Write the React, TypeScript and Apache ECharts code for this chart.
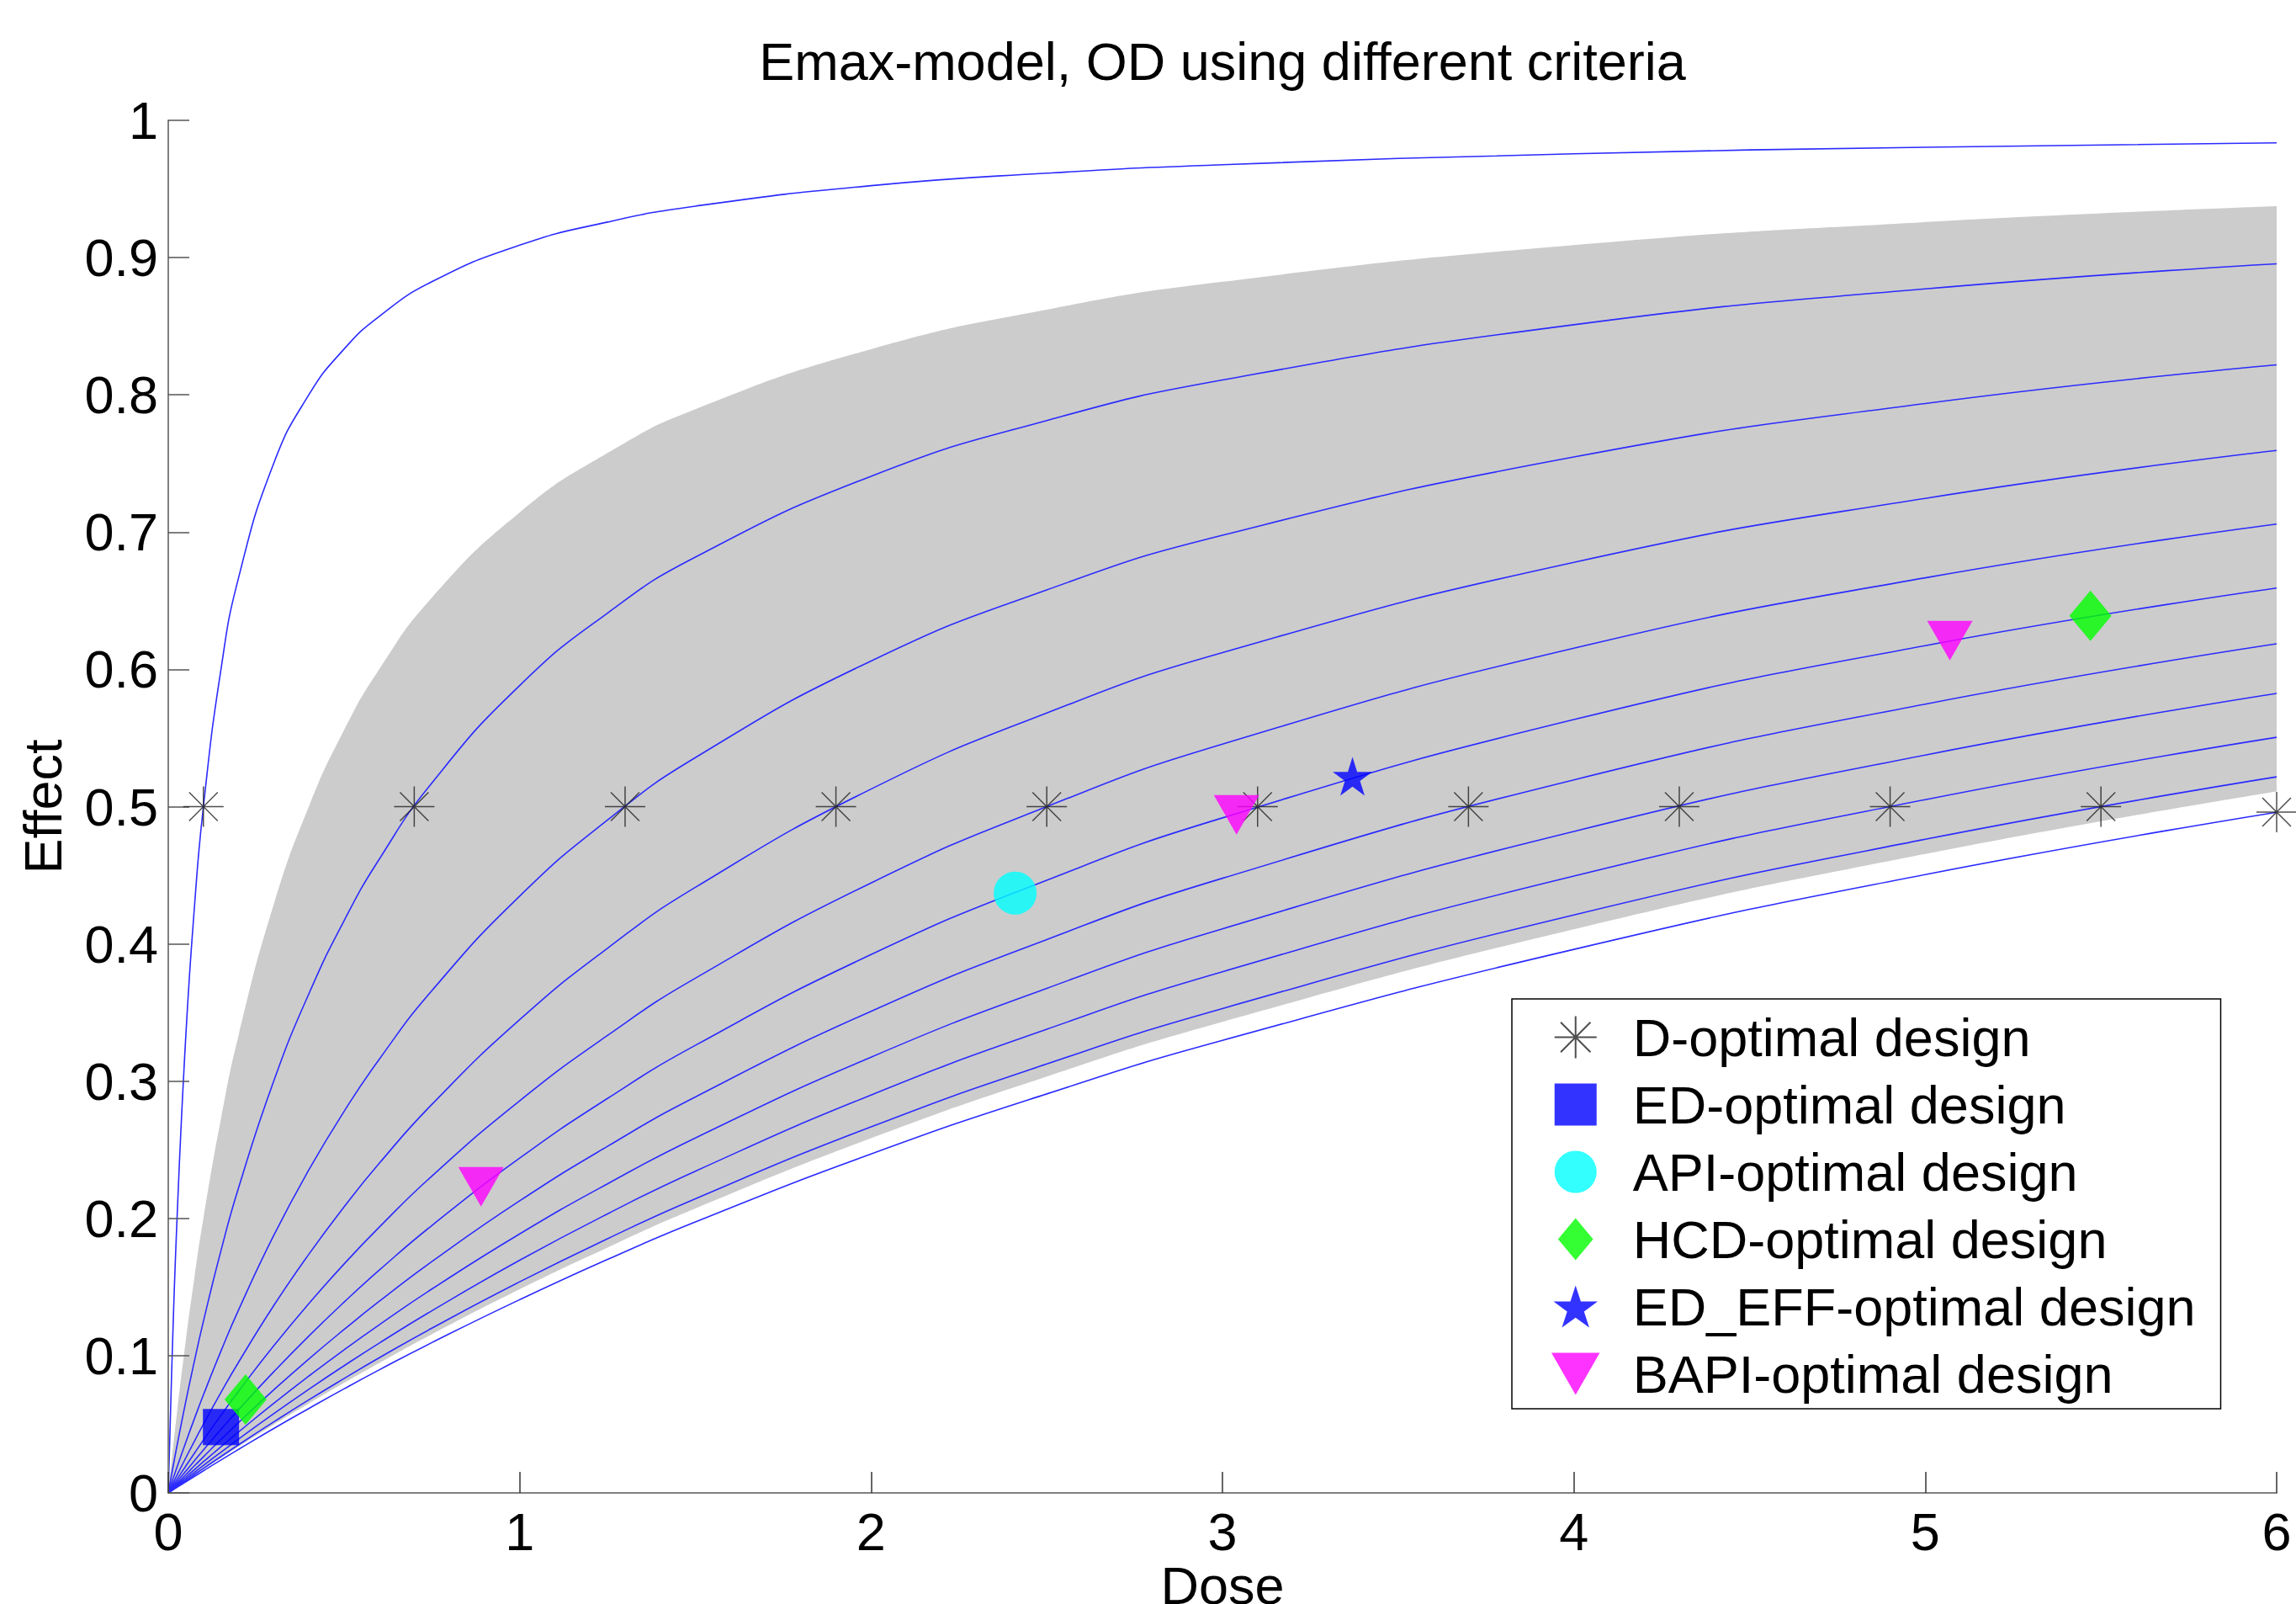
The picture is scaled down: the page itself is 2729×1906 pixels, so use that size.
import React, { useEffect, useRef } from 'react';
import * as echarts from 'echarts';

// Dose grid on which the Emax curves were read
const doseGrid = [0, 0.01, 0.025, 0.05, 0.075, 0.1, 0.15, 0.2, 0.3, 0.4, 0.5, 0.6, 0.75, 1, 1.25, 1.5, 2, 2.5, 3, 4, 5, 6];

// Blue model curves (ED50 = 0.1, 0.7, ..., 6.1)
const curveA = [0, 0.0909, 0.2, 0.3333, 0.4286, 0.5, 0.6, 0.6667, 0.75, 0.8, 0.8333, 0.8571, 0.8824, 0.9091, 0.9259, 0.9375, 0.9524, 0.9615, 0.9677, 0.9756, 0.9804, 0.9836];
const curveB = [0, 0.0141, 0.0345, 0.0667, 0.0968, 0.125, 0.1765, 0.2222, 0.3, 0.3636, 0.4167, 0.4615, 0.5172, 0.5882, 0.641, 0.6818, 0.7407, 0.7813, 0.8108, 0.8511, 0.8772, 0.8955];
const curveC = [0, 0.0076, 0.0189, 0.037, 0.0545, 0.0714, 0.1034, 0.1333, 0.1875, 0.2353, 0.2778, 0.3158, 0.3659, 0.4348, 0.4902, 0.5357, 0.6061, 0.6579, 0.6977, 0.7547, 0.7937, 0.8219];
const curveD = [0, 0.0052, 0.013, 0.0256, 0.038, 0.05, 0.0732, 0.0952, 0.1364, 0.1739, 0.2083, 0.24, 0.283, 0.3448, 0.3968, 0.4412, 0.5128, 0.5682, 0.6122, 0.678, 0.7246, 0.7595];
const curveE = [0, 0.004, 0.0099, 0.0196, 0.0291, 0.0385, 0.0566, 0.0741, 0.1071, 0.1379, 0.1667, 0.1935, 0.2308, 0.2857, 0.3333, 0.375, 0.4444, 0.5, 0.5455, 0.6154, 0.6667, 0.7059];
const curveF = [0, 0.0032, 0.008, 0.0159, 0.0236, 0.0313, 0.0462, 0.0606, 0.0882, 0.1143, 0.1389, 0.1622, 0.1948, 0.2439, 0.2874, 0.3261, 0.3922, 0.4464, 0.4918, 0.5634, 0.6173, 0.6593];
const curveG = [0, 0.0027, 0.0067, 0.0133, 0.0199, 0.0263, 0.039, 0.0513, 0.075, 0.0976, 0.119, 0.1395, 0.1685, 0.2128, 0.2525, 0.2885, 0.3509, 0.4032, 0.4478, 0.5195, 0.5747, 0.6186];
const curveH = [0, 0.0023, 0.0058, 0.0115, 0.0171, 0.0227, 0.0337, 0.0444, 0.0652, 0.0851, 0.1042, 0.1224, 0.1485, 0.1887, 0.2252, 0.2586, 0.3175, 0.3676, 0.411, 0.4819, 0.5376, 0.5825];
const curveI = [0, 0.002, 0.0051, 0.0101, 0.0151, 0.02, 0.0297, 0.0392, 0.0577, 0.0755, 0.0926, 0.1091, 0.1327, 0.1695, 0.2033, 0.2344, 0.2899, 0.3378, 0.3797, 0.4494, 0.5051, 0.5505];
const curveJ = [0, 0.0018, 0.0045, 0.009, 0.0135, 0.0179, 0.0265, 0.0351, 0.0517, 0.0678, 0.0833, 0.0984, 0.12, 0.1538, 0.1852, 0.2143, 0.2667, 0.3125, 0.3529, 0.4211, 0.4762, 0.5217];
const curveK = [0, 0.0016, 0.0041, 0.0081, 0.0121, 0.0161, 0.024, 0.0317, 0.0469, 0.0615, 0.0758, 0.0896, 0.1095, 0.1408, 0.1701, 0.1974, 0.2469, 0.2907, 0.3297, 0.396, 0.4505, 0.4959];

// Grey uncertainty band edges
const bandUpper = [0, 0.0244, 0.0588, 0.1111, 0.1579, 0.2, 0.2727, 0.3333, 0.4286, 0.5, 0.5556, 0.6, 0.6522, 0.7143, 0.7576, 0.7895, 0.8333, 0.8621, 0.8824, 0.9091, 0.9259, 0.9375];
const bandLower = [0, 0.0017, 0.0043, 0.0086, 0.0129, 0.0171, 0.0255, 0.0337, 0.0497, 0.0651, 0.0801, 0.0946, 0.1156, 0.1484, 0.1788, 0.2072, 0.2584, 0.3034, 0.3432, 0.4107, 0.4655, 0.5111];

// Design points
const dOptDose = [0.1, 0.7, 1.3, 1.9, 2.5, 3.1, 3.7, 4.3, 4.9, 5.5, 6.0];
const dOptEffect = [0.5, 0.5, 0.5, 0.5, 0.5, 0.5, 0.5, 0.5, 0.5, 0.5, 0.496];
const edOptDose = [0.15];
const edOptEffect = [0.048];
const apiOptDose = [2.41];
const apiOptEffect = [0.437];
const hcdOptDose = [0.22, 5.47];
const hcdOptEffect = [0.068, 0.639];
const edEffOptDose = [3.37];
const edEffOptEffect = [0.522];
const bapiOptDose = [0.89, 3.04, 5.07];
const bapiOptEffect = [0.223, 0.494, 0.621];

const xTicks = [0, 1, 2, 3, 4, 5, 6];
const legendNames = ['D-optimal design', 'ED-optimal design', 'API-optimal design', 'HCD-optimal design', 'ED_EFF-optimal design', 'BAPI-optimal design'];

const FONT = "'Liberation Sans', Arial, Helvetica, sans-serif";

const zip = (xs: number[], ys: number[]) => xs.map((x, i) => [x, ys[i]]);

const ASTERISK = 'path://M0,-1L0,1M-1,0L1,0M-0.7071,-0.7071L0.7071,0.7071M-0.7071,0.7071L0.7071,-0.7071';
const SQUARE = 'path://M0,0L10,0L10,10L0,10Z';
const DIAMOND = 'path://M5,0L10,6L5,12L0,6Z';
const TRI_DOWN = 'path://M0,0L2,0L1,1.74Z';
const STAR = 'path://M0,-1L0.2245,-0.309L0.951,-0.309L0.3633,0.118L0.588,0.809L0,0.382L-0.588,0.809L-0.3633,0.118L-0.951,-0.309L-0.2245,-0.309Z';

export default function App() {
  const ref = useRef<HTMLDivElement>(null);
  useEffect(() => {
    document.body.style.margin = '0';
    const chart = echarts.init(ref.current!, null, { renderer: 'svg' });
    const curves = [curveA, curveB, curveC, curveD, curveE, curveF, curveG, curveH, curveI, curveJ, curveK];
    const curveSeries = curves.map((c, i) => ({
      name: 'curve' + i,
      type: 'line',
      data: zip(doseGrid, c),
      smooth: 0.5,
      symbol: 'none',
      silent: true,
      lineStyle: { color: '#2b2bff', width: 1.6 },
      z: 3,
    }));
    const option: any = {
      animation: false,
      backgroundColor: '#ffffff',
      title: {
        text: 'Emax-model, OD using different criteria',
        left: 1453,
        top: 41,
        textAlign: 'center',
        padding: 0,
        textStyle: { fontSize: 63, fontWeight: 'normal', color: '#000', fontFamily: FONT },
      },
      grid: { left: 200, right: 23, top: 143, bottom: 132, containLabel: false, outerBoundsMode: 'none' },
      legend: {
        data: legendNames,
        orient: 'vertical',
        left: 1797,
        top: 1187,
        itemWidth: 126,
        itemHeight: 50,
        itemGap: 17,
        padding: [14, 30, 10, 47],
        borderColor: '#000',
        borderWidth: 1.5,
        borderRadius: 0,
        backgroundColor: '#fff',
        selectedMode: false,
        symbolKeepAspect: true,
        textStyle: { fontSize: 63, color: '#000', fontFamily: FONT },
      },
      xAxis: {
        type: 'value',
        min: xTicks[0],
        max: xTicks[xTicks.length - 1],
        interval: 1,
        z: 8,
        name: 'Dose',
        nameLocation: 'middle',
        nameGap: 78,
        nameMoveOverlap: false,
        nameTextStyle: { fontSize: 63, color: '#000', fontFamily: FONT },
        splitLine: { show: false },
        axisLine: { lineStyle: { color: '#808080', width: 2 } },
        axisTick: { inside: true, length: 25, lineStyle: { color: '#333', width: 1.5 } },
        axisLabel: { fontSize: 63, color: '#000', margin: 14, fontFamily: FONT },
      },
      yAxis: {
        type: 'value',
        min: 0,
        max: 1,
        interval: 0.1,
        z: 8,
        name: 'Effect',
        nameLocation: 'middle',
        nameGap: 118,
        nameMoveOverlap: false,
        nameTextStyle: { fontSize: 63, color: '#000', fontFamily: FONT },
        splitLine: { show: false },
        axisLine: { lineStyle: { color: '#808080', width: 2 } },
        axisTick: { inside: true, length: 25, lineStyle: { color: '#555', width: 1.5 } },
        axisLabel: { fontSize: 63, color: '#000', margin: 12, fontFamily: FONT },
      },
      series: [
        {
          name: 'bandUpper',
          type: 'line',
          data: zip(doseGrid, bandUpper),
          smooth: 0.5,
          symbol: 'none',
          silent: true,
          lineStyle: { width: 0, opacity: 0 },
          areaStyle: { color: '#cccccc', opacity: 1, origin: 'start' },
          z: 1,
        },
        {
          name: 'bandLower',
          type: 'line',
          data: zip(doseGrid, bandLower),
          smooth: 0.5,
          symbol: 'none',
          silent: true,
          lineStyle: { width: 0, opacity: 0 },
          areaStyle: { color: '#ffffff', opacity: 1, origin: 'start' },
          z: 2,
        },
        ...curveSeries,
        {
          name: legendNames[0],
          type: 'scatter',
          data: zip(dOptDose, dOptEffect),
          symbol: ASTERISK,
          symbolSize: 48,
          itemStyle: { color: '#222', borderColor: '#222', borderWidth: 1.5 },
          z: 10,
        },
        {
          name: legendNames[1],
          type: 'scatter',
          data: zip(edOptDose, edOptEffect),
          symbol: SQUARE,
          symbolSize: 43,
          itemStyle: { color: '#0000ff' },
          z: 10,
        },
        {
          name: legendNames[2],
          type: 'scatter',
          data: zip(apiOptDose, apiOptEffect),
          symbol: 'circle',
          symbolSize: 51,
          itemStyle: { color: '#00ffff' },
          z: 10,
        },
        {
          name: legendNames[3],
          type: 'scatter',
          data: zip(hcdOptDose, hcdOptEffect),
          symbol: DIAMOND,
          symbolSize: [50, 60],
          itemStyle: { color: '#00ff00' },
          z: 10,
        },
        {
          name: legendNames[4],
          type: 'scatter',
          data: zip(edEffOptDose, edEffOptEffect),
          symbol: STAR,
          symbolSize: [47, 46],
          itemStyle: { color: '#0000ff' },
          z: 10,
        },
        {
          name: legendNames[5],
          type: 'scatter',
          data: zip(bapiOptDose, bapiOptEffect),
          symbol: TRI_DOWN,
          symbolSize: [54, 47],
          itemStyle: { color: '#ff00ff' },
          z: 10,
        },
      ],
    };
    chart.setOption(option);
    return () => chart.dispose();
  }, []);
  return <div ref={ref} style={{ width: 2729, height: 1906 }} />;
}
